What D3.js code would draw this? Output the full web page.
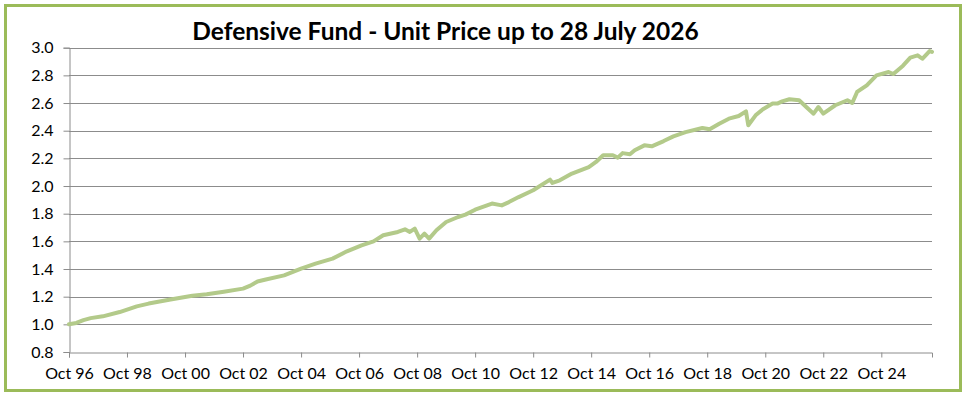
<!DOCTYPE html>
<html>
<head>
<meta charset="utf-8">
<script src="https://cdn.jsdelivr.net/npm/d3@7"></script>
<style>
  html, body { margin: 0; padding: 0; background: #fff; }
  svg { display: block; }
  text { font-family: Lato, "Open Sans", sans-serif; }
</style>
</head>
<body>
<svg id="chart" width="970" height="400"></svg>
<script>
const title = "Defensive Fund - Unit Price up to 28 July 2026";

const dates = [
  "1996-10","1997-01","1997-04","1997-07","1997-12","1998-07","1999-02","1999-07","2000-04","2001-01","2001-07",
  "2002-02","2002-10","2003-01","2003-04","2003-07","2004-03","2004-10","2005-04","2005-11","2006-05","2006-11","2007-04",
  "2007-08","2008-02","2008-05","2008-07","2008-09","2008-11","2009-01","2009-03","2009-06","2009-10",
  "2010-03","2010-06","2010-10","2011-05","2011-09","2011-12","2012-04","2012-10","2013-05","2013-06",
  "2013-09","2014-02","2014-09","2014-12","2015-03","2015-07","2015-09","2015-11","2016-02","2016-04",
  "2016-08","2016-11","2017-04","2017-08","2018-01","2018-08","2018-11","2019-03","2019-07","2019-11",
  "2020-02","2020-03","2020-06","2020-09","2021-01","2021-03","2021-05","2021-08","2021-12","2022-03",
  "2022-06","2022-08","2022-10","2023-03","2023-08","2023-10","2023-12","2024-04","2024-08","2025-01",
  "2025-03","2025-07","2025-10","2026-01","2026-03","2026-06","2026-07"
];
const prices = [
  1.000,1.010,1.030,1.045,1.058,1.089,1.130,1.150,1.179,1.207,1.217,
  1.235,1.258,1.280,1.310,1.322,1.354,1.403,1.439,1.475,1.528,1.571,1.600,
  1.644,1.668,1.687,1.668,1.692,1.620,1.656,1.620,1.680,1.740,
  1.776,1.793,1.829,1.873,1.860,1.884,1.920,1.969,2.046,2.022,
  2.041,2.090,2.137,2.174,2.222,2.222,2.205,2.238,2.229,2.258,
  2.294,2.287,2.325,2.359,2.390,2.419,2.410,2.450,2.487,2.506,
  2.540,2.439,2.511,2.555,2.596,2.596,2.612,2.627,2.620,2.571,
  2.523,2.571,2.523,2.584,2.620,2.600,2.680,2.728,2.800,2.824,
  2.810,2.870,2.928,2.945,2.920,2.976,2.970
];
const yTicks = [0.8, 1.0, 1.2, 1.4, 1.6, 1.8, 2.0, 2.2, 2.4, 2.6, 2.8, 3.0];
const xTickYears = [1996, 1998, 2000, 2002, 2004, 2006, 2008, 2010, 2012, 2014, 2016, 2018, 2020, 2022, 2024];

const parse = d3.timeParse("%Y-%m");
const data = dates.map((d, i) => ({ date: parse(d), value: prices[i] }));

const svg = d3.select("#chart");
const plotL = 69, plotR = 932, plotT = 47.7, plotB = 352;

// outer border
svg.append("rect")
  .attr("x", 5.5).attr("y", 5.5).attr("width", 955).attr("height", 385)
  .attr("fill", "#fff").attr("stroke", "#9BBB59").attr("stroke-width", 3);

const x = d3.scaleTime()
  .domain([new Date(1996, 9, 1), new Date(2026, 6, 1)])
  .range([plotL, plotR]);
const y = d3.scaleLinear().domain([0.8, 3.0]).range([plotB, plotT]);

// gridlines
svg.append("g").selectAll("line").data(yTicks.slice(1)).join("line")
  .attr("x1", plotL).attr("x2", plotR)
  .attr("y1", d => Math.round(y(d)) + 0.5).attr("y2", d => Math.round(y(d)) + 0.5)
  .attr("stroke", "#8c8c8c").attr("stroke-width", 1);

// y axis
const yAxis = svg.append("g").attr("transform", `translate(${plotL + 0.5},0)`)
  .call(d3.axisLeft(y).tickValues(yTicks).tickFormat(d3.format(".1f")).tickSize(6).tickPadding(10));
yAxis.select(".domain").attr("stroke", "#8c8c8c");
yAxis.selectAll(".tick line").attr("stroke", "#8c8c8c");
yAxis.selectAll(".tick text").attr("font-size", 16).attr("fill", "#000")
  .attr("font-family", "Lato, sans-serif");

// x axis
const xAxis = svg.append("g").attr("transform", `translate(0,${Math.round(plotB) + 0.5})`)
  .call(d3.axisBottom(x)
    .tickValues(xTickYears.map(yr => new Date(yr, 9, 1)))
    .tickFormat(d3.timeFormat("Oct %y"))
    .tickSize(5).tickPadding(10));
xAxis.select(".domain").attr("stroke", "#8c8c8c");
xAxis.selectAll(".tick line").attr("stroke", "#8c8c8c");
xAxis.selectAll(".tick text").attr("font-size", 16).attr("fill", "#000")
  .attr("font-family", "Lato, sans-serif");

// line
svg.append("path").datum(data)
  .attr("fill", "none")
  .attr("stroke", "#B3CA8A")
  .attr("stroke-width", 4)
  .attr("stroke-linejoin", "round")
  .attr("stroke-linecap", "round")
  .attr("d", d3.line().x(d => x(d.date)).y(d => y(d.value)));

// title
svg.append("text")
  .attr("x", 445.5).attr("y", 40)
  .attr("text-anchor", "middle")
  .attr("font-size", 24.5).attr("font-weight", "bold").attr("fill", "#000")
  .text(title);
</script>
</body>
</html>
